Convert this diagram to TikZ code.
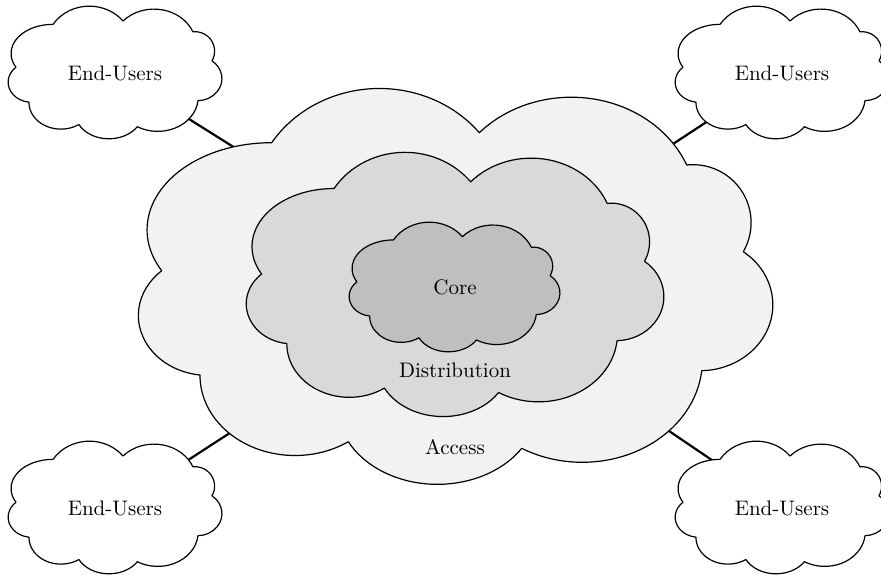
\documentclass[tikz,border=0pt]{standalone}

\pgfdeclarelayer{links}
\pgfsetlayers{links,main}

% One puff of a cloud: an axis-parallel elliptic arc with radii #6, #7 running
% clockwise from cusp (#2,#3) to cusp (#4,#5), in a 635 x 397 box with y down.
% Stores the parametric start and end angles under the id #1.
\newcommand\puffangles[7]{%
  \pgfmathsetmacro\pdx{((#4)-(#2))/(#6)}%
  \pgfmathsetmacro\pdy{((#5)-(#3))/(#7)}%
  \pgfmathsetmacro\pd{sqrt((\pdx)*(\pdx)+(\pdy)*(\pdy))}%
  \pgfmathsetmacro\ps{sqrt(1-(\pd)*(\pd)/4)}%
  \pgfmathsetmacro\pcx{(\pdx)/2-(\ps)*(\pdy)/(\pd)}%
  \pgfmathsetmacro\pcy{(\pdy)/2+(\ps)*(\pdx)/(\pd)}%
  \pgfmathsetmacro\pS{atan2(0-(\pcy), 0-(\pcx))}%
  \pgfmathsetmacro\pE{atan2((\pdy)-(\pcy), (\pdx)-(\pcx))}%
  \pgfmathsetmacro\pE{(\pS)+mod((\pE)-(\pS)+720,360)}%
  \expandafter\xdef\csname puffs#1\endcsname{\pS}%
  \expandafter\xdef\csname puffe#1\endcsname{\pE}}

\puffangles{a}{271.7}{142.7}{479.3}{132.7}{128}{118}
\puffangles{b}{479.3}{132.7}{686.7}{165.0}{125}{110}
\puffangles{c}{686.7}{165.0}{743.3}{251.7}{58}{58}
\puffangles{d}{743.3}{251.7}{701.7}{370.7}{73}{66}
\puffangles{e}{701.7}{370.7}{521.7}{448.3}{120}{102}
\puffangles{f}{521.7}{448.3}{348.3}{441.7}{100}{78}
\puffangles{g}{348.3}{441.7}{200.0}{375.0}{95}{80}
\puffangles{h}{200.0}{375.0}{161.7}{270.7}{70}{60}
\puffangles{i}{161.7}{270.7}{271.7}{142.7}{124}{87}

\newcommand\puff[3]{arc[x radius=#2, y radius=#3,
  start angle=\csname puffs#1\endcsname, end angle=\csname puffe#1\endcsname]}

% Cloud outline filling the box of node #1 (width #2 pt, height #3 pt), fill #4
\newcommand\cloudshape[4]{%
  \pgfmathsetmacro\cloudux{#2/635}%
  \pgfmathsetmacro\clouduy{#3/397}%
  \begin{scope}[shift={(#1.north west)}, x=\cloudux pt, y=-\clouduy pt, shift={(-138,-88)}]
    \path[cloudline, fill=#4] (271.7,142.7)
      \puff{a}{128}{118} \puff{b}{125}{110} \puff{c}{58}{58}
      \puff{d}{73}{66}   \puff{e}{120}{102} \puff{f}{100}{78}
      \puff{g}{95}{80}   \puff{h}{70}{60}   \puff{i}{124}{87} -- cycle;
  \end{scope}}

\tikzset{
  cloudline/.style={draw=black, line width=0.6pt, line join=round},
  areabox/.style={rectangle, draw=none, inner sep=0pt, outer sep=0pt},
  layer/.style={font=\fontsize{10.5}{12}\selectfont, inner sep=1pt},
  link/.style={draw=black, line width=1.1pt}
}

\begin{document}
\begin{tikzpicture}[x=0.5pt, y=-0.5pt]
  \useasboundingbox (0,0) rectangle (881,574);

  % areas taken by the clouds
  \node[areabox, minimum width=317.5pt, minimum height=198.5pt] (access) at (455.5,286.5) {};
  \node[areabox, minimum width=209pt,   minimum height=132.5pt] (dist)   at (455,284.5) {};
  \node[areabox, minimum width=105.5pt, minimum height=65pt]    (core)   at (454.5,287) {};
  \node[areabox, minimum width=107pt, minimum height=66.5pt] (eu1) at (115,72.5)  {};
  \node[areabox, minimum width=107pt, minimum height=66.5pt] (eu2) at (782,72.5)  {};
  \node[areabox, minimum width=107pt, minimum height=66.5pt] (eu3) at (115,507.5) {};
  \node[areabox, minimum width=107pt, minimum height=66.5pt] (eu4) at (782,507.5) {};

  % links from the end users to the access layer, under the clouds
  \begin{pgfonlayer}{links}
    \path[link] (eu1.center) -- (access.center);
    \path[link] (eu2.center) -- (access.center);
    \path[link] (eu3.center) -- (access.center);
    \path[link] (eu4.center) -- (access.center);
  \end{pgfonlayer}

  % nested network layers
  \cloudshape{access}{317.5}{198.5}{gray!10}
  \cloudshape{dist}{209}{132.5}{gray!30}
  \cloudshape{core}{105.5}{65}{gray!50}

  % end-user clouds
  \cloudshape{eu1}{107}{66.5}{white}
  \cloudshape{eu2}{107}{66.5}{white}
  \cloudshape{eu3}{107}{66.5}{white}
  \cloudshape{eu4}{107}{66.5}{white}

  % labels
  \node[layer] (coretxt)   at (455,287) {Core};
  \node[layer] (disttxt)   at (455,370) {Distribution};
  \node[layer] (accesstxt) at (455,447) {Access};
  \node[layer] (eu1txt) at (115,73)  {End-Users};
  \node[layer] (eu2txt) at (782,73)  {End-Users};
  \node[layer] (eu3txt) at (115,508) {End-Users};
  \node[layer] (eu4txt) at (782,508) {End-Users};
\end{tikzpicture}
\end{document}
